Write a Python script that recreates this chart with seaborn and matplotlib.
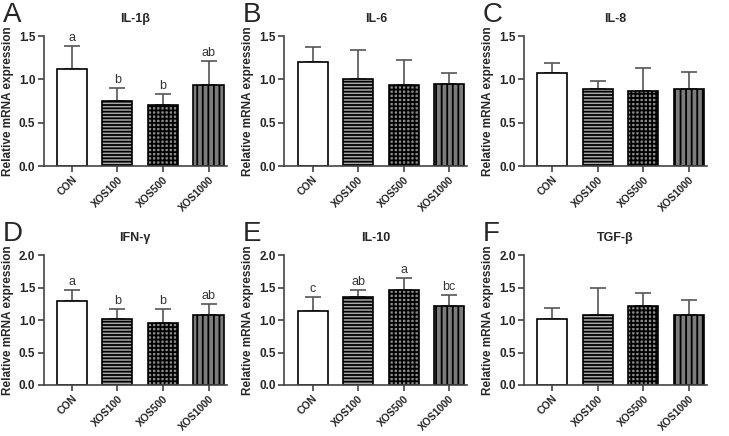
import numpy as np
import pandas as pd
import matplotlib
matplotlib.use("Agg")
import matplotlib.pyplot as plt
import seaborn as sns

groups = ["CON", "XOS100", "XOS500", "XOS1000"]

genes = ["IL-1β", "IL-6", "IL-8", "IFN-γ", "IL-10", "TGF-β"]
letters_panel = ["A", "B", "C", "D", "E", "F"]

mean_il1b = [1.12, 0.75, 0.70, 0.94]
sd_il1b = [0.27, 0.155, 0.13, 0.27]
mean_il6 = [1.20, 1.00, 0.94, 0.95]
sd_il6 = [0.18, 0.34, 0.28, 0.13]
mean_il8 = [1.08, 0.89, 0.87, 0.89]
sd_il8 = [0.11, 0.09, 0.26, 0.195]
mean_ifng = [1.29, 1.02, 0.96, 1.08]
sd_ifng = [0.17, 0.145, 0.21, 0.165]
mean_il10 = [1.14, 1.36, 1.46, 1.21]
sd_il10 = [0.22, 0.10, 0.18, 0.18]
mean_tgfb = [1.01, 1.07, 1.21, 1.07]
sd_tgfb = [0.17, 0.42, 0.21, 0.24]

sig_il1b = ["a", "b", "b", "ab"]
sig_ifng = ["a", "b", "b", "ab"]
sig_il10 = ["c", "ab", "a", "bc"]

means = [mean_il1b, mean_il6, mean_il8, mean_ifng, mean_il10, mean_tgfb]
sds = [sd_il1b, sd_il6, sd_il8, sd_ifng, sd_il10, sd_tgfb]
sigs = [sig_il1b, None, None, sig_ifng, sig_il10, None]
ymax = [1.5, 1.5, 1.5, 2.0, 2.0, 2.0]

sns.set_style("ticks")
plt.rcParams['font.family'] = ['Liberation Sans', 'DejaVu Sans']
plt.rcParams['hatch.linewidth'] = 1.3

faces = ["white", "#a8a8a8", "#8c8c8c", "#7c7c7c"]
hatches = [None, "-----", "++++", "|||"]

fig = plt.figure(figsize=(7.29, 4.36), dpi=100)
lefts = [0.060, 0.390, 0.719]
bottoms = [0.619, 0.117]

for i in range(6):
    r, c = divmod(i, 3)
    ax = fig.add_axes([lefts[c], bottoms[r], 0.251, 0.298])
    df = pd.DataFrame({"group": groups, "value": means[i], "sd": sds[i]})
    x = np.arange(len(groups))
    ax.errorbar(x, df["value"], yerr=[np.zeros(4), df["sd"]], fmt="none",
                ecolor="#555555", elinewidth=1.2, capsize=6, capthick=1.2, zorder=1)
    sns.barplot(data=df, x="group", y="value", ax=ax, width=0.66,
                edgecolor="black", linewidth=1.2, errorbar=None, zorder=2)
    for j, p in enumerate(ax.patches):
        p.set_facecolor(faces[j])
        p.set_edgecolor("black")
        if hatches[j]:
            p.set_hatch(hatches[j])
    if sigs[i]:
        for j in range(4):
            ax.text(j, means[i][j] + sds[i][j] + 0.015 * ymax[i], sigs[i][j],
                    ha="center", va="bottom", fontsize=9, color="#333333")
    ax.set_xlim(-0.62, 3.4)
    ax.set_ylim(0, ymax[i])
    ax.set_yticks(np.arange(0, ymax[i] + 0.01, 0.5))
    ax.set_yticklabels([f"{v:.1f}" for v in np.arange(0, ymax[i] + 0.01, 0.5)],
                       fontsize=8.5, fontweight="bold")
    ax.set_xticks(x)
    ax.set_xticklabels(groups, rotation=45, ha="right", rotation_mode="anchor",
                       fontsize=7.5, fontweight="bold")
    ax.set_xlabel("")
    ax.set_ylabel("Relative mRNA expression", fontsize=8.5, fontweight="bold")
    ax.yaxis.set_label_coords(-0.165, 0.5)
    ax.set_title(genes[i], fontsize=9, fontweight="bold", pad=10)
    for s in ["left", "bottom"]:
        ax.spines[s].set_linewidth(1.2)
        ax.spines[s].set_color("#444444")
    sns.despine(ax=ax)
    ax.tick_params(width=1.2, length=4, color="#444444", pad=2)
    ax.text(-0.225, 1.16, letters_panel[i], transform=ax.transAxes,
            fontsize=20, va="center", ha="left")

fig.savefig("out.png", dpi=100)
